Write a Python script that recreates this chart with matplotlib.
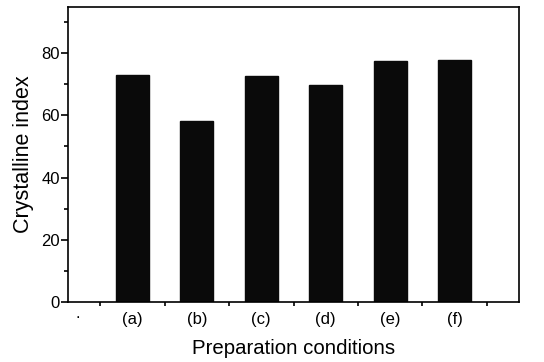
import matplotlib
matplotlib.use("Agg")
import matplotlib.pyplot as plt
from matplotlib.ticker import MultipleLocator, FixedLocator

plt.rcParams['font.family'] = ['Liberation Sans', 'DejaVu Sans']

categories = ['(a)', '(b)', '(c)', '(d)', '(e)', '(f)']
crystalline_index = [73.0, 58.2, 72.7, 69.7, 77.3, 77.7]

fig = plt.figure(figsize=(5.44, 3.62), dpi=100)
ax = fig.add_axes([68/544, 1 - 302/362, (519-68)/544, (302-7)/362])

positions = list(range(1, len(categories) + 1))
ax.bar(positions, crystalline_index, width=0.51, color='#0a0a0a', edgecolor='#0a0a0a')

ax.set_xlim(0, 7)
ax.set_ylim(0, 94.8)

# category labels sit at bar centres; tick marks fall between the bars
ax.set_xticks(positions)
ax.set_xticklabels(categories, fontsize=12)
ax.tick_params(axis='x', which='major', length=0, pad=7)
ax.xaxis.set_minor_locator(FixedLocator([0.5 + i for i in range(7)]))
ax.tick_params(axis='x', which='minor', direction='out', length=3, width=1.2)

ax.yaxis.set_major_locator(MultipleLocator(20))
ax.yaxis.set_minor_locator(MultipleLocator(10))
ax.tick_params(axis='y', which='major', direction='out', length=5, width=1.2, labelsize=12, pad=1)
ax.tick_params(axis='y', which='minor', direction='out', length=3, width=1.2)

for s in ax.spines.values():
    s.set_linewidth(1.2)

ax.text(0.15, -6.0, '.', fontsize=12, ha='center', va='bottom')

ax.set_ylabel('Crystalline index', fontsize=15.5, labelpad=5)
ax.set_xlabel('Preparation conditions', fontsize=14.7, labelpad=9)

fig.savefig('out.png', dpi=100)
